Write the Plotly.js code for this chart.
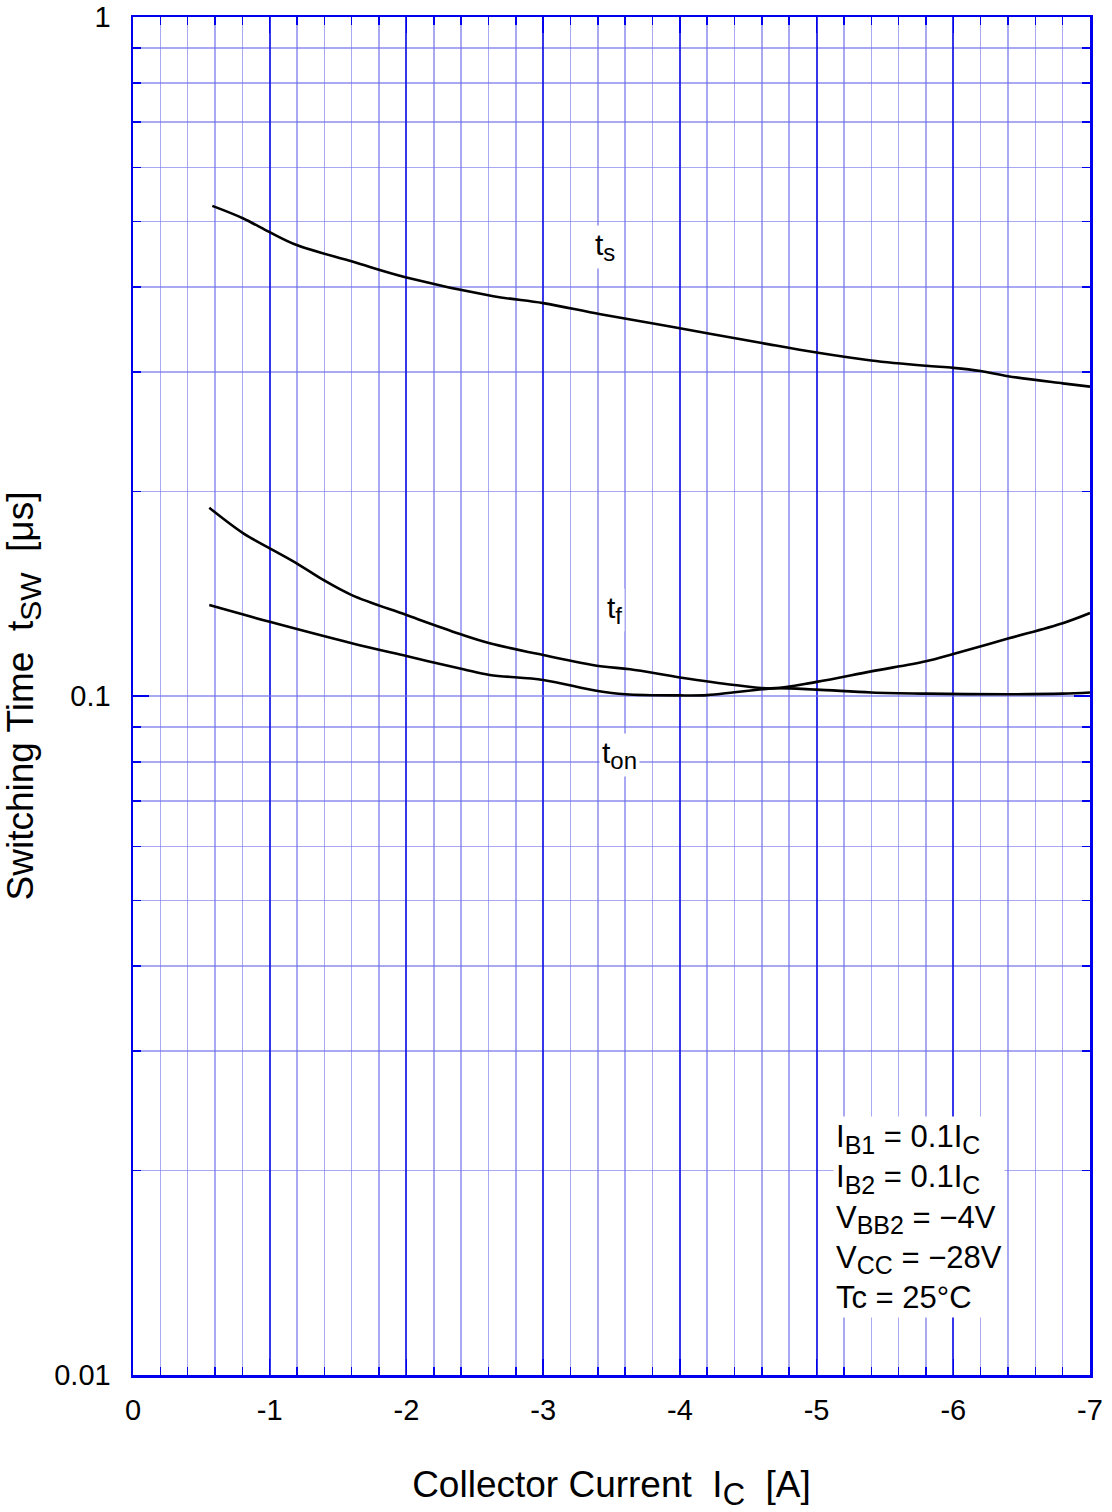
<!DOCTYPE html>
<html>
<head>
<meta charset="utf-8">
<script src="https://cdn.plot.ly/plotly-3.0.1.min.js"></script>
<style>html,body{margin:0;padding:0;background:#fff;}#chart{width:1112px;height:1512px;}</style>
</head>
<body>
<div id="chart"></div>
<script>
// Collector current I_C [A]
const tsX = [-0.58, -0.807, -1.0, -1.197, -1.61, -2.0, -2.636, -3.0, -3.42, -4.0, -4.6, -5.0, -5.4, -5.8, -6.0, -6.2, -6.4, -6.8, -7.0];
const tsY = [0.527, 0.505, 0.482, 0.4615, 0.436, 0.4135, 0.388, 0.379, 0.365, 0.348, 0.331, 0.3205, 0.312, 0.3064, 0.3043, 0.301, 0.2958, 0.2887, 0.2855];

const tfX = [-0.558, -0.807, -1.0, -1.197, -1.392, -1.6, -2.0, -2.392, -2.61, -3.0, -3.42, -3.636, -4.0, -4.4, -4.68, -5.0, -5.4, -5.8, -6.0, -6.4, -6.8, -7.0];
const tfY = [0.1893, 0.1736, 0.165, 0.1568, 0.1482, 0.1408, 0.1316, 0.1234, 0.1196, 0.1149, 0.1106, 0.1095, 0.1065, 0.1038, 0.1026, 0.1049, 0.1087, 0.1125, 0.1153, 0.1215, 0.128, 0.1325];

const tonX = [-0.558, -1.0, -1.6, -2.0, -2.416, -2.61, -3.0, -3.39, -3.6, -4.0, -4.2, -4.4, -4.6, -4.7, -5.0, -5.4, -5.8, -6.4, -6.8, -7.0];
const tonY = [0.1361, 0.1286, 0.1196, 0.1145, 0.1095, 0.1074, 0.1056, 0.1018, 0.1006, 0.1002, 0.1003, 0.1013, 0.1023, 0.1027, 0.1022, 0.1012, 0.1008, 0.1006, 0.1008, 0.1012];

// Axis ticks
const xTickVals = [0, -1, -2, -3, -4, -5, -6, -7];
const xTickText = ['0', '-1', '-2', '-3', '-4', '-5', '-6', '-7'];
const xMinorVals = [-0.2,-0.4,-0.6,-0.8,-1.2,-1.4,-1.6,-1.8,-2.2,-2.4,-2.6,-2.8,-3.2,-3.4,-3.6,-3.8,
                    -4.2,-4.4,-4.6,-4.8,-5.2,-5.4,-5.6,-5.8,-6.2,-6.4,-6.6,-6.8];
const yTickVals = [0.01, 0.1, 1];
const yTickText = ['0.01', '0.1', '1'];
const yMinorVals = [0.02,0.03,0.04,0.05,0.06,0.07,0.08,0.09,0.2,0.3,0.4,0.5,0.6,0.7,0.8,0.9];

// Labels
function sub(t, px) { return '<sub><span style="font-size:' + px + 'px">' + t + '</span></sub>'; }
const curveLabels = [
  {text: 't' + sub('s', 24), x: -3.45, y: 0.458},
  {text: 't' + sub('f', 24), x: -3.52, y: 0.134},
  {text: 't' + sub('on', 24), x: -3.56, y: 0.0819}
];
const conditions = [
  'I' + sub('B1', 25) + ' = 0.1I' + sub('C', 25),
  'I' + sub('B2', 25) + ' = 0.1I' + sub('C', 25),
  'V' + sub('BB2', 25) + ' = \u22124V',
  'V' + sub('CC', 25) + ' = \u221228V',
  'Tc = 25\u00b0C'
];

const FONT = 'Arial, "Liberation Sans", sans-serif';
const DARK = '#0000ee';
const LIGHT = 'rgba(110,110,235,0.6)';

const line = {color: '#000', width: 2.6, shape: 'spline', smoothing: 1};
const traces = [
  {x: tsX, y: tsY, mode: 'lines', line: line, hoverinfo: 'skip'},
  {x: tfX, y: tfY, mode: 'lines', line: line, hoverinfo: 'skip'},
  {x: tonX, y: tonY, mode: 'lines', line: line, hoverinfo: 'skip'}
];

const annotations = curveLabels.map(l => ({
  x: l.x, y: Math.log10(l.y), xref: 'x', yref: 'y', text: l.text, showarrow: false,
  font: {family: FONT, size: 30, color: '#000'}, bgcolor: '#fff', borderpad: 2
}));
annotations.push({
  x: -5.12, y: Math.log10(0.0171), xref: 'x', yref: 'y', xanchor: 'left', yanchor: 'middle',
  text: conditions.join('<br>'), align: 'left', showarrow: false,
  font: {family: FONT, size: 31, color: '#000'}, bgcolor: '#fff', borderpad: 2
});

const layout = {
  width: 1112, height: 1512,
  margin: {l: 133, r: 22, t: 17, b: 137},
  paper_bgcolor: '#fff', plot_bgcolor: '#fff',
  showlegend: false,
  font: {family: FONT, color: '#000'},
  xaxis: {
    range: [0, -7], tickmode: 'array', tickvals: xTickVals, ticktext: xTickText,
    ticks: 'inside', ticklen: 16, tickwidth: 1.5, tickcolor: DARK,
    showgrid: true, gridcolor: 'rgba(20,20,230,0.85)', gridwidth: 2,
    minor: {tickmode: 'array', tickvals: xMinorVals, ticks: 'inside', ticklen: 8, tickwidth: 1.5, tickcolor: DARK, showgrid: true, gridcolor: LIGHT, gridwidth: 1.5},
    showline: true, linecolor: DARK, linewidth: 2.5, mirror: 'allticks',
    zeroline: false, tickfont: {size: 29, family: FONT}, ticklabelstandoff: 8,
    title: {text: 'Collector Current\u00a0\u00a0I' + sub('C', 31) + '\u00a0\u00a0[A]', font: {size: 37, family: FONT}, standoff: 50}
  },
  yaxis: {
    type: 'log', range: [-2, 0], tickmode: 'array', tickvals: yTickVals, ticktext: yTickText,
    ticks: 'inside', ticklen: 16, tickwidth: 1.5, tickcolor: DARK,
    showgrid: true, gridcolor: LIGHT, gridwidth: 1.5,
    minor: {tickmode: 'array', tickvals: yMinorVals, ticks: 'inside', ticklen: 8, tickwidth: 1.5, tickcolor: DARK, showgrid: true, gridcolor: LIGHT, gridwidth: 1.5},
    showline: true, linecolor: DARK, linewidth: 2.5, mirror: 'allticks',
    zeroline: false, tickfont: {size: 29, family: FONT}, ticklabelstandoff: 14,
    title: {text: 'Switching Time\u00a0\u00a0t' + sub('SW', 30) + '\u00a0\u00a0[\u03bcs]', font: {size: 37, family: FONT}, standoff: 24}
  },
  annotations: annotations
};

Plotly.newPlot('chart', traces, layout, {staticPlot: true, displayModeBar: false});
</script>
</body>
</html>
